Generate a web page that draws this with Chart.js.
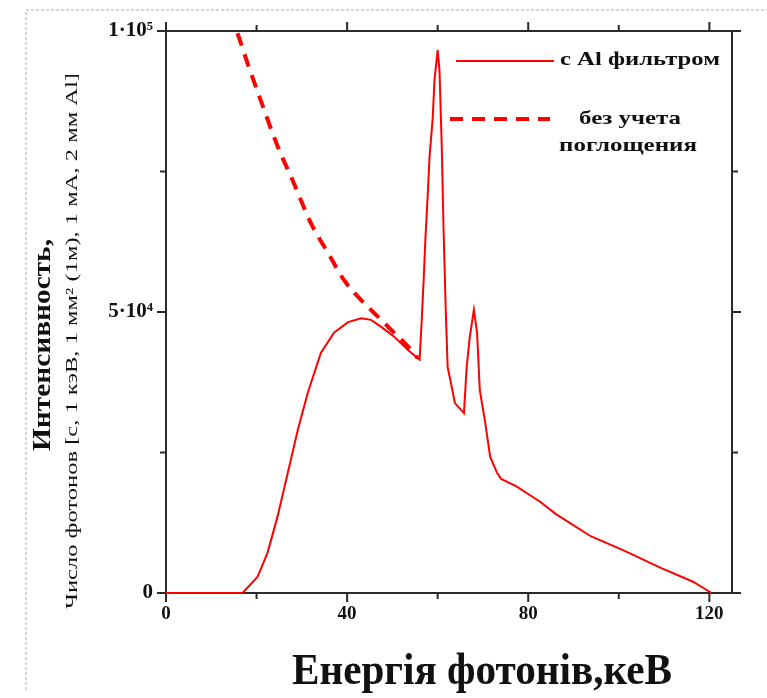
<!DOCTYPE html>
<html>
<head>
<meta charset="utf-8">
<script src="https://cdn.jsdelivr.net/npm/chart.js@4/dist/chart.umd.min.js"></script>
<style>
  html, body { margin: 0; padding: 0; background: #fff; }
  #wrap { width: 767px; height: 698px; }
</style>
</head>
<body>
<div id="wrap"><canvas id="myChart" width="767" height="698"></canvas></div>
<script>
// spectrum with Al filter
const energyFiltered = [0, 16.9, 20.2, 22.4, 24.6, 26.9, 29.1, 31.3, 34.2, 37.1, 40.2, 43.1, 45.3, 47.6, 50.4, 53.5, 56.0,
  56.4, 56.9, 57.3, 57.8, 58.2, 58.9, 59.3, 60.0, 60.4, 60.9, 61.3, 61.8, 62.2, 63.1, 63.8, 65.8,
  66.4, 67.1, 68.0, 68.7, 69.3, 70.4, 71.6, 73.1, 74.0, 77.3, 82.7, 86.2, 93.8, 101.3, 108.9, 116.4, 120.5];
const countsFiltered = [0, 0, 2850, 7100, 13500, 21400, 29000, 35600, 42700, 46300, 48200, 48900, 48600, 47300, 45600, 43200, 41500,
  47300, 55700, 63200, 70800, 77600, 84500, 91300, 96600, 93000, 79400, 64600, 49800, 40200, 36700, 33800, 32000,
  40200, 45600, 50400, 46300, 36100, 30800, 24200, 21400, 20300, 19000, 16200, 14000, 10100, 7500, 4600, 2000, 0];

// without absorption
const energyUnfiltered = [15.8, 18.0, 20.9, 24.7, 28.2, 32.0, 35.8, 39.3, 43.1, 46.9, 50.4, 54.2, 55.6];
const countsUnfiltered = [99600, 94300, 87700, 79400, 73000, 65800, 60500, 55700, 52100, 49100, 46300, 43200, 41800];

const xTicks = [0, 20, 40, 60, 80, 100, 120];
const xLabels = [0, 40, 80, 120];
const yTicks = [0, 25000, 50000, 75000, 100000];
const yLabels = {0: '0', 50000: '5·10⁴', 100000: '1·10⁵'};

const seriesNames = ['с Al фильтром', 'без учета', 'поглощения'];
const xTitle = 'Енергія фотонів,кеВ';
const yTitle1 = 'Интенсивность,';
const yTitle2 = 'Число фотонов [с, 1 кэВ, 1 мм² (1м), 1 мА, 2 мм Al]';

const toPoints = (xs, ys) => xs.map((x, i) => ({x: x, y: ys[i]}));

// draw text squeezed/stretched to a given width
function fitText(ctx, text, x, y, width) {
  const w = ctx.measureText(text).width;
  ctx.save();
  ctx.translate(x, y);
  ctx.scale(width / w, 1);
  ctx.textAlign = 'center';
  ctx.fillText(text, 0, 0);
  ctx.restore();
}

const framePlugin = {
  id: 'frame',
  beforeDraw(chart) {
    const ctx = chart.ctx;
    ctx.save();
    ctx.strokeStyle = '#c8c8c8';
    ctx.lineWidth = 1.5;
    ctx.setLineDash([3, 2]);
    ctx.beginPath();
    ctx.moveTo(26, 690); ctx.lineTo(26, 10); ctx.lineTo(767, 10);
    ctx.stroke();
    ctx.restore();
  },
  beforeDatasetsDraw(chart) {
    const {ctx, chartArea: a, scales: {x, y}} = chart;
    ctx.save();
    ctx.strokeStyle = '#2b2b2b';
    ctx.lineWidth = 2;
    ctx.beginPath();
    ctx.moveTo(a.left, a.top); ctx.lineTo(a.left, a.bottom + 1);
    ctx.moveTo(a.left - 1, a.bottom); ctx.lineTo(a.right + 6, a.bottom);
    ctx.moveTo(a.left - 1, a.top); ctx.lineTo(a.right + 6, a.top);
    ctx.moveTo(a.right, a.top); ctx.lineTo(a.right, a.bottom);
    xTicks.forEach(v => {
      const px = x.getPixelForValue(v);
      const len = xLabels.includes(v) ? 9 : 6;
      ctx.moveTo(px, a.bottom); ctx.lineTo(px, a.bottom + len);
      ctx.moveTo(px, a.top); ctx.lineTo(px, a.top - len);
    });
    yTicks.forEach(v => {
      const py = y.getPixelForValue(v);
      const len = yLabels[v] ? 9 : 6;
      ctx.moveTo(a.left, py); ctx.lineTo(a.left - len, py);
      ctx.moveTo(a.right, py); ctx.lineTo(a.right + len, py);
    });
    ctx.stroke();
    ctx.restore();
  },
  afterDraw(chart) {
    const ctx = chart.ctx;
    ctx.save();
    ctx.fillStyle = '#111';
    ctx.textBaseline = 'middle';

    // legend
    ctx.strokeStyle = 'rgb(255,0,0)';
    ctx.lineWidth = 2;
    ctx.beginPath();
    ctx.moveTo(456, 61); ctx.lineTo(554, 61);
    ctx.stroke();
    ctx.lineWidth = 4;
    ctx.setLineDash([13, 9]);
    ctx.beginPath();
    ctx.moveTo(450, 119); ctx.lineTo(550, 119);
    ctx.stroke();
    ctx.setLineDash([]);
    ctx.font = 'bold 19px "Liberation Serif"';
    fitText(ctx, seriesNames[0], 640, 60, 160);
    fitText(ctx, seriesNames[1], 630, 119, 102);
    fitText(ctx, seriesNames[2], 628, 146, 138);

    // axis titles
    ctx.font = 'bold 44px "Liberation Serif"';
    fitText(ctx, xTitle, 482, 673, 380);

    ctx.save();
    ctx.translate(44, 345);
    ctx.rotate(-Math.PI / 2);
    ctx.font = 'bold 25px "Liberation Serif"';
    fitText(ctx, yTitle1, 0, 0, 212);
    ctx.restore();

    ctx.save();
    ctx.translate(73, 341);
    ctx.rotate(-Math.PI / 2);
    ctx.font = '16px "Liberation Serif"';
    fitText(ctx, yTitle2, 0, 0, 536);
    ctx.restore();

    ctx.restore();
  }
};

const data = {
  datasets: [{
    label: seriesNames[0],
    data: toPoints(energyFiltered, countsFiltered),
    borderColor: 'rgb(255,0,0)',
    borderWidth: 2,
    pointRadius: 0,
    tension: 0,
    clip: 8
  }, {
    label: seriesNames[1] + ' ' + seriesNames[2],
    data: toPoints(energyUnfiltered, countsUnfiltered),
    borderColor: 'rgb(255,0,0)',
    borderWidth: 4,
    borderDash: [13, 9],
    pointRadius: 0,
    cubicInterpolationMode: 'monotone',
    clip: 8
  }]
};

const config = {
  type: 'line',
  data: data,
  options: {
    responsive: false,
    animation: false,
    devicePixelRatio: 1,
    layout: {padding: {left: 0, right: 35, top: 31, bottom: 0}},
    plugins: {legend: {display: false}, tooltip: {enabled: false}},
    scales: {
      x: {
        type: 'linear',
        min: 0,
        max: 125,
        afterFit: s => { s.height = 105; },
        afterBuildTicks: s => { s.ticks = xTicks.map(v => ({value: v})); },
        grid: {display: false, drawTicks: false},
        border: {display: false},
        ticks: {
          padding: 10,
          color: '#111',
          font: {family: '"Liberation Serif"', size: 19, weight: 'bold'},
          callback: v => xLabels.includes(v) ? String(v) : ''
        }
      },
      y: {
        min: 0,
        max: 100000,
        afterFit: s => { s.width = 166; },
        afterBuildTicks: s => { s.ticks = yTicks.map(v => ({value: v})); },
        grid: {display: false, drawTicks: false},
        border: {display: false},
        ticks: {
          padding: 13,
          color: '#111',
          font: {family: '"Liberation Serif"', size: 21, weight: 'bold'},
          callback: v => yLabels[v] || ''
        }
      }
    }
  },
  plugins: [framePlugin]
};

const myChart = new Chart(document.getElementById('myChart'), config);
</script>
</body>
</html>
